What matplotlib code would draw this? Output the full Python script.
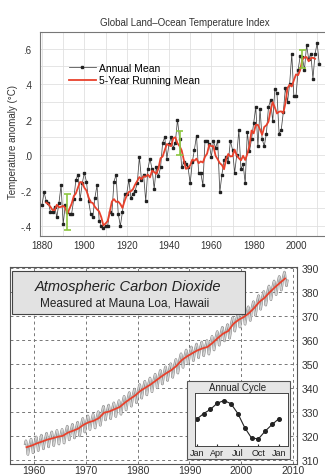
import matplotlib
matplotlib.use("agg")
import matplotlib.pyplot as plt
from matplotlib.patches import Rectangle
import matplotlib.patheffects as pe
import numpy as np

plt.rcParams['font.family'] = ['Liberation Sans', 'DejaVu Sans']

# --- Global land-ocean temperature index (annual mean anomaly, deg C) ---
temp_years = list(range(1880, 2012))
temp_anom = [
    -0.28, -0.21, -0.26, -0.27, -0.32, -0.32, -0.29, -0.35, -0.27, -0.17,
    -0.39, -0.28, -0.32, -0.33, -0.33, -0.25, -0.14, -0.11, -0.25, -0.16,
    -0.10, -0.15, -0.26, -0.33, -0.35, -0.24, -0.17, -0.37, -0.40, -0.41,
    -0.40, -0.40, -0.32, -0.33, -0.15, -0.11, -0.33, -0.40, -0.32, -0.22,
    -0.22, -0.14, -0.24, -0.22, -0.20, -0.16, -0.01, -0.14, -0.11, -0.26,
    -0.08, -0.02, -0.08, -0.19, -0.07, -0.12, -0.07, 0.07, 0.10, -0.02,
    0.06, 0.10, 0.04, 0.07, 0.20, 0.09, -0.07, -0.04, -0.05, -0.07,
    -0.16, -0.04, 0.03, 0.11, -0.10, -0.10, -0.17, 0.08, 0.08, 0.06,
    -0.01, 0.08, 0.04, 0.08, -0.21, -0.11, -0.03, -0.01, -0.04, 0.08,
    0.03, -0.10, 0.00, 0.14, -0.08, -0.05, -0.16, 0.13, 0.02, 0.09,
    0.18, 0.27, 0.05, 0.26, 0.09, 0.05, 0.12, 0.27, 0.31, 0.19,
    0.37, 0.35, 0.12, 0.14, 0.24, 0.38, 0.30, 0.40, 0.57, 0.33,
    0.33, 0.48, 0.56, 0.55, 0.48, 0.62, 0.54, 0.57, 0.43, 0.57,
    0.63, 0.51,
]
# uncertainty bars (year, low, high)
unc_years = [1892, 1945, 2003]
unc_low = [-0.42, 0.00, 0.49]
unc_high = [-0.22, 0.135, 0.59]

# --- Mauna Loa CO2 (annual means, ppmv) ---
co2_years = list(range(1958, 2009))
co2_annual = [
    315.3, 315.98, 316.91, 317.64, 318.45, 318.99, 319.62, 320.04, 321.38, 322.16,
    323.04, 324.62, 325.68, 326.32, 327.45, 329.68, 330.18, 331.11, 332.04, 333.83,
    335.40, 336.84, 338.75, 340.11, 341.45, 343.05, 344.65, 346.12, 347.42, 349.19,
    351.57, 353.12, 354.39, 355.61, 356.45, 357.10, 358.83, 360.82, 362.61, 363.73,
    366.70, 368.38, 369.55, 371.14, 373.28, 375.80, 377.52, 379.80, 381.90, 383.79,
    385.60,
]
# seasonal cycle (Jan .. Jan), ppmv relative
cycle_labels = ['Jan', 'Apr', 'Jul', 'Oct', 'Jan']
cycle_vals = [0.0, 0.85, 1.5, 2.45, 2.85, 2.35, 0.85, -1.3, -2.9, -3.0, -1.8, -0.8, 0.1]

red = '#e8412c'

fig = plt.figure(figsize=(3.25, 4.77), dpi=100)

# ================= top chart =================
ax1 = fig.add_axes([40/325, 1-237/477, 1-40/325, 204/477])
ax1.set_xlim(1879.05, 2013.7)
ax1.set_ylim(-0.456, 0.693)
ax1.set_xticks(range(1880, 2001, 20))
ax1.set_xticks(range(1880, 2014, 10), minor=True)
ax1.set_yticks([-0.4, -0.2, 0.0, 0.2, 0.4, 0.6])
ax1.set_yticklabels(['-.4', '-.2', '.0', '.2', '.4', '.6'])
ax1.set_yticks(np.arange(-0.4, 0.7, 0.1), minor=True)
ax1.grid(True, which='both', color='#e0e0e0', lw=0.6)
ax1.set_axisbelow(True)
ax1.tick_params(which='both', length=0, labelsize=7, colors='#333')
ax1.tick_params(axis='y', pad=6)
ax1.tick_params(axis='x', pad=3)
for s in ax1.spines.values():
    s.set_color('#777')
    s.set_linewidth(0.8)
ax1.spines['right'].set_visible(False)

ax1.plot(temp_years, temp_anom, color='#444', lw=0.55, marker='s', ms=2.0,
         mfc='#222', mec='#222', label='Annual Mean', zorder=3)
run = np.convolve(temp_anom, np.ones(5) / 5, mode='valid')
ax1.plot(temp_years[2:-2], run, color=red, lw=1.3, label='5-Year Running Mean', zorder=4)
for x, lo, hi in zip(unc_years, unc_low, unc_high):
    ax1.vlines(x, lo, hi, color='#8cc63f', lw=1.2, zorder=5)
    ax1.hlines([lo, hi], x - 1.8, x + 1.8, color='#8cc63f', lw=1.2, zorder=5)

ax1.legend(loc='upper left', bbox_to_anchor=(0.1, 0.85), frameon=False, fontsize=7.5,
           handlelength=2.6, handletextpad=0.3, labelspacing=0.25, borderaxespad=0,
           borderpad=0)
fig.text(185/325, 1-23/477, 'Global Land\u2013Ocean Temperature Index', ha='center',
         va='center', fontsize=7, color='#333')
fig.text(13/325, 1-142/477, 'Temperature anomaly (\u00b0C)', rotation=90, ha='center',
         va='center', fontsize=7, color='#333')

# ================= bottom chart =================
ax2 = fig.add_axes([10/325, 1-465/477, 287/325, 197/477])
ax2.set_xlim(1955.3, 2010.8)
ax2.set_ylim(308.3, 390.4)
ax2.set_xticks(range(1960, 2011, 10))
ax2.set_yticks(range(310, 391, 10))
ax2.yaxis.tick_right()
ax2.grid(True, ls=(0, (3, 3)), color='#777', lw=0.7)
ax2.set_axisbelow(True)
ax2.tick_params(length=0, labelsize=7.5, colors='#333')
ax2.tick_params(axis='x', pad=1)
ax2.tick_params(axis='y', pad=3)
for s in ax2.spines.values():
    s.set_color('#555')
    s.set_linewidth(0.8)

month_x = []
month_y = []
for yr, base in zip(co2_years, co2_annual):
    start = 2 if yr == 1958 else 0
    for m in range(start, 12):
        month_x.append(yr + (m + 0.5) / 12)
        month_y.append(base + cycle_vals[m] - np.mean(cycle_vals[:12]))
ax2.plot(month_x, month_y, color='#d2d2d2', lw=0.8, zorder=2,
         path_effects=[pe.Stroke(linewidth=1.6, foreground='#8a8a8a'), pe.Normal()])
ax2.plot(np.array(co2_years) + 0.5, co2_annual, color=red, lw=1.3, zorder=3)

ax2.add_patch(Rectangle((0.007, 0.761), 0.812, 0.219, transform=ax2.transAxes,
                        fc='#e2e2e2', ec='#444', lw=0.8, zorder=4))
ax2.text(0.411, 0.905, 'Atmospheric Carbon Dioxide', transform=ax2.transAxes,
         ha='center', va='center', fontsize=10.5, style='italic', color='#222', zorder=5)
ax2.text(0.4, 0.822, 'Measured at Mauna Loa, Hawaii', transform=ax2.transAxes,
         ha='center', va='center', fontsize=8.5, color='#222', zorder=5)
ax2.add_patch(Rectangle((187/325, 1-460/477), 103/325, 78/477, transform=fig.transFigure,
                        fc='#e6e6e6', ec='#555', lw=0.8, zorder=6, clip_on=False))
fig.text(238/325, 1-388/477, 'Annual Cycle', ha='center', va='center', fontsize=7,
         color='#222', zorder=7)

# ================= inset =================
ax3 = fig.add_axes([195/325, 1-447/477, 93/325, 53/477])
ax3.set_facecolor('white')
ax3.plot(range(13), cycle_vals, color='#222', lw=0.8, marker='o', ms=2.6)
ax3.set_xlim(-0.25, 13.3)
ax3.set_ylim(-4.1, 4.0)
ax3.set_xticks([0, 3, 6, 9, 12])
ax3.set_xticklabels(cycle_labels)
ax3.set_yticks([])
ax3.tick_params(length=1.5, direction='in', labelsize=6.5, pad=1.5, colors='#222')
for s in ax3.spines.values():
    s.set_color('#444')
    s.set_linewidth(0.7)

plt.savefig('out.png', dpi=100)
plt.close()
